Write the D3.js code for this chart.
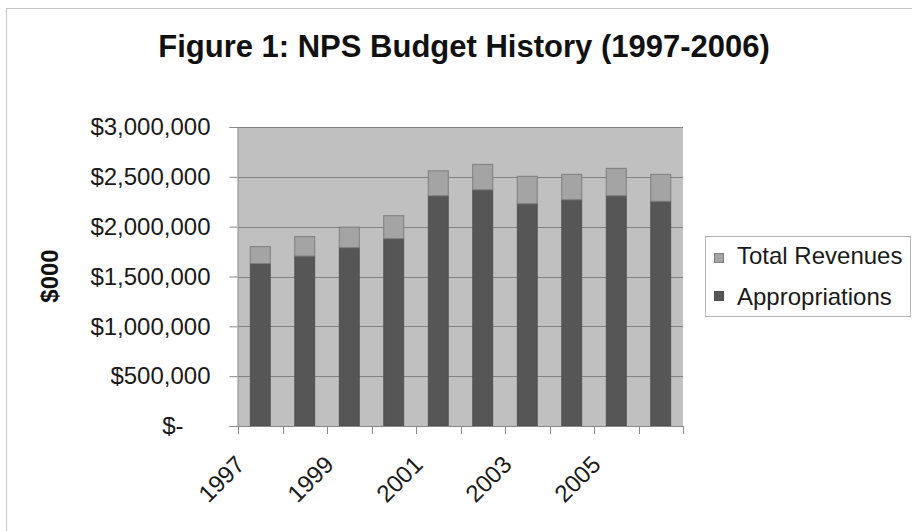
<!DOCTYPE html>
<html>
<head>
<meta charset="utf-8">
<script src="https://cdn.jsdelivr.net/npm/d3@7"></script>
<style>
  body { margin: 0; background: #fff; }
  svg text { font-family: "Liberation Sans", Arial, sans-serif; }
</style>
</head>
<body>
<svg id="chart" width="912" height="531"></svg>
<script>
// data ($000)
var years = ["1997", "1998", "1999", "2000", "2001", "2002", "2003", "2004", "2005", "2006"];
var appropriations = [1630000, 1705000, 1790000, 1880000, 2310000, 2370000, 2230000, 2270000, 2310000, 2255000];
var totalRevenues = [170000, 195000, 205000, 230000, 250000, 255000, 275000, 255000, 275000, 270000];
var yTicks = [0, 500000, 1000000, 1500000, 2000000, 2500000, 3000000];
var xLabels = ["1997", "1999", "2001", "2003", "2005"];

function drawChart() {
  var svg = d3.select("#chart");

  var plotLeft = 238, plotRight = 683, plotTop = 127, plotBottom = 426;

  var x = d3.scaleBand()
    .domain(years)
    .range([plotLeft, plotRight])
    .paddingInner(0.55)
    .paddingOuter(0.275);

  var y = d3.scaleLinear()
    .domain([0, 3000000])
    .range([plotBottom, plotTop]);

  // outer chart border (runs off the right and bottom of the image)
  svg.append("rect")
    .attr("x", 6.5).attr("y", 8.5)
    .attr("width", 1000).attr("height", 1000)
    .attr("fill", "#fff")
    .attr("stroke", "#c4c4c4");

  svg.append("text")
    .attr("x", 464).attr("y", 57)
    .attr("text-anchor", "middle")
    .attr("font-size", 31).attr("font-weight", "bold")
    .attr("fill", "#111")
    .text("Figure 1: NPS Budget History (1997-2006)");

  // plot area
  svg.append("rect")
    .attr("x", plotLeft).attr("y", plotTop)
    .attr("width", plotRight - plotLeft).attr("height", plotBottom - plotTop)
    .attr("fill", "#c0c0c0");

  svg.append("g")
    .selectAll("line")
    .data(yTicks.filter(function(d) { return d > 0; }))
    .enter().append("line")
      .attr("x1", plotLeft).attr("x2", plotRight)
      .attr("y1", function(d) { return Math.round(y(d)) + 0.5; })
      .attr("y2", function(d) { return Math.round(y(d)) + 0.5; })
      .attr("stroke", "#828282");

  // stacked bars
  var rows = years.map(function(d, i) {
    return { year: d, app: appropriations[i], rev: totalRevenues[i] };
  });

  svg.append("g")
    .selectAll("rect")
    .data(rows)
    .enter().append("rect")
      .attr("x", function(d) { return x(d.year); })
      .attr("y", function(d) { return y(d.app); })
      .attr("width", x.bandwidth())
      .attr("height", function(d) { return y(0) - y(d.app); })
      .attr("fill", "#565656")
      .attr("stroke", "#4e4e4e")
      .attr("stroke-width", 0.8);

  svg.append("g")
    .selectAll("rect")
    .data(rows)
    .enter().append("rect")
      .attr("x", function(d) { return x(d.year); })
      .attr("y", function(d) { return y(d.app + d.rev); })
      .attr("width", x.bandwidth())
      .attr("height", function(d) { return y(d.app) - y(d.app + d.rev); })
      .attr("fill", "#a4a4a4")
      .attr("stroke", "#7e7e7e")
      .attr("stroke-width", 1);

  // axes
  var yAxis = d3.axisLeft(y)
    .tickValues(yTicks)
    .tickSize(8)
    .tickPadding(19)
    .tickFormat(function(d) { return d === 0 ? "$-" : d3.format("$,")(d); });

  var gy = svg.append("g")
    .attr("transform", "translate(" + (plotLeft - 0.5) + ",0)")
    .call(yAxis);
  gy.select(".domain").attr("stroke", "#888");
  gy.selectAll(".tick line").attr("stroke", "#888");
  gy.selectAll(".tick text")
    .attr("font-size", 24)
    .attr("fill", "#1a1a1a")
    .attr("font-family", "'Liberation Sans', Arial, sans-serif")
    .attr("dx", function(d) { return d === 0 ? -27 : 0; });

  svg.append("line")
    .attr("x1", plotLeft - 8).attr("x2", plotRight + 1)
    .attr("y1", plotBottom + 0.5).attr("y2", plotBottom + 0.5)
    .attr("stroke", "#888");

  // category tick marks at band edges
  svg.append("g")
    .selectAll("line")
    .data(d3.range(years.length + 1))
    .enter().append("line")
      .attr("x1", function(i) { return Math.round(x.range()[0] + i * x.step()) + 0.5; })
      .attr("x2", function(i) { return Math.round(x.range()[0] + i * x.step()) + 0.5; })
      .attr("y1", plotBottom).attr("y2", plotBottom + 8)
      .attr("stroke", "#888");

  svg.append("g")
    .selectAll("text")
    .data(xLabels)
    .enter().append("text")
      .attr("transform", function(d) {
        return "translate(" + (x(d) + x.bandwidth() / 2 - 14) + "," + 466 + ") rotate(-45)";
      })
      .attr("text-anchor", "end")
      .attr("font-size", 24)
      .attr("fill", "#1a1a1a")
      .text(function(d) { return d; });

  svg.append("text")
    .attr("transform", "translate(58,276) rotate(-90)")
    .attr("text-anchor", "middle")
    .attr("font-size", 24).attr("font-weight", "bold")
    .attr("fill", "#111")
    .text("$000");

  // legend
  var legend = svg.append("g");
  legend.append("rect")
    .attr("x", 705.5).attr("y", 236.5)
    .attr("width", 205).attr("height", 80)
    .attr("fill", "#fff")
    .attr("stroke", "#b4b4b4");

  var legendItems = [
    { name: "Total Revenues", fill: "#a4a4a4", stroke: "#7e7e7e" },
    { name: "Appropriations", fill: "#565656", stroke: "#4e4e4e" }
  ];

  legendItems.forEach(function(d, i) {
    legend.append("rect")
      .attr("x", 714.5).attr("y", 253.5 + i * 38)
      .attr("width", 9).attr("height", 9)
      .attr("fill", d.fill).attr("stroke", d.stroke);
    legend.append("text")
      .attr("x", 737).attr("y", 264 + i * 41)
      .attr("font-size", 24)
      .attr("fill", "#1a1a1a")
      .text(d.name);
  });
}

drawChart();
</script>
</body>
</html>
